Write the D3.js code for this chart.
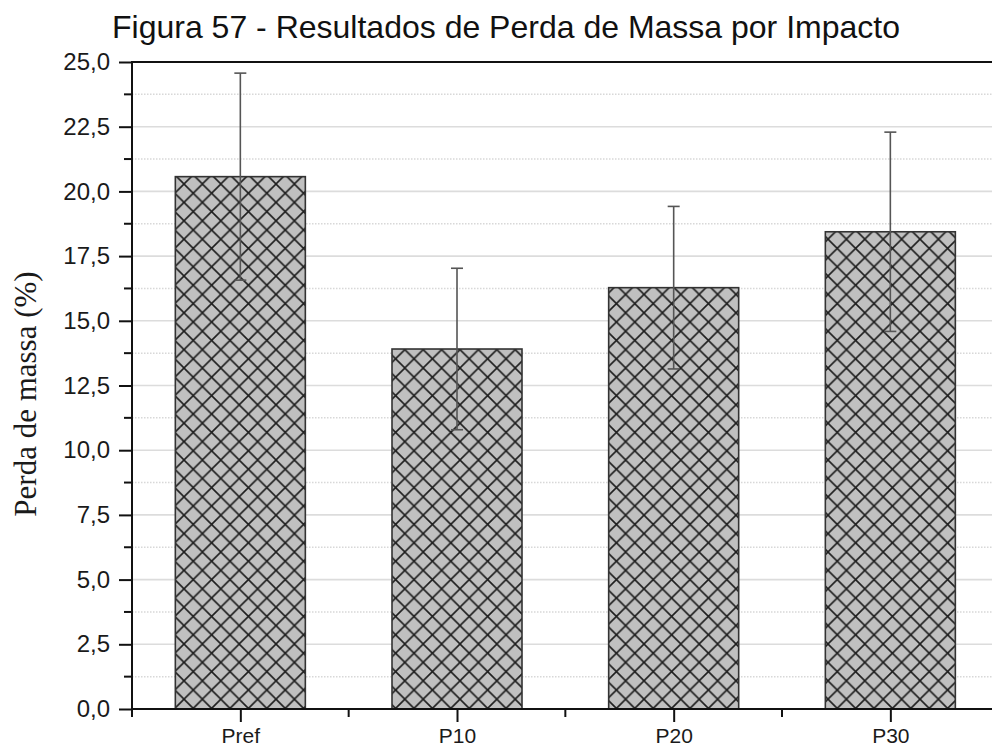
<!DOCTYPE html>
<html>
<head>
<meta charset="utf-8">
<script src="https://cdn.jsdelivr.net/npm/d3@7"></script>
<style>
  html, body { margin: 0; padding: 0; background: #fff; }
  svg { display: block; }
</style>
</head>
<body>
<svg id="chart" width="992" height="747"></svg>
<script>
// ---- data ----
const categories = ["Pref", "P10", "P20", "P30"];
const values = [20.57, 13.91, 16.28, 18.44];
const errors = [4.0, 3.12, 3.14, 3.85];
const yMajorTicks = [0, 2.5, 5, 7.5, 10, 12.5, 15, 17.5, 20, 22.5, 25];
const yMinorTicks = [1.25, 3.75, 6.25, 8.75, 11.25, 13.75, 16.25, 18.75, 21.25, 23.75];
const title = "Figura 57 - Resultados de Perda de Massa por Impacto";
const yLabel = "Perda de massa (%)";

(function () {
// ---- layout ----
const svg = d3.select("#chart");
const mLeft = 132, mTop = 62, mBottom = 709;
const bandStep = 216.67;
const mRight = mLeft + bandStep * categories.length;

const x = d3.scaleLinear().domain([-0.5, categories.length - 0.5]).range([mLeft, mRight]);
const y = d3.scaleLinear().domain([0, 25]).range([mBottom, mTop]);
const barW = bandStep * 0.6;
const fmt = v => d3.format(".1f")(v).replace(".", ",");

// pattern
const defs = svg.append("defs");
const P = 18.4;
const pat = defs.append("pattern")
  .attr("id", "hatch").attr("patternUnits", "userSpaceOnUse")
  .attr("width", P).attr("height", P);
pat.append("rect").attr("width", P).attr("height", P).attr("fill", "#c0c0c0");
pat.append("path")
  .attr("d", `M0,0 L${P},${P} M${P},0 L0,${P} M${-P/2},${P/2} L${P/2},${P*1.5} M${P/2},${-P/2} L${P*1.5},${P/2} M${P/2},${-P/2} L${-P/2},${P/2} M${P*1.5},${P/2} L${P/2},${P*1.5}`)
  .attr("stroke", "#1e1e1e").attr("stroke-width", 1.6).attr("fill", "none");

// grid
const grid = svg.append("g");
grid.selectAll("line.minor").data(yMinorTicks).join("line")
  .attr("class", "minor")
  .attr("x1", mLeft).attr("x2", mRight)
  .attr("y1", d => y(d)).attr("y2", d => y(d))
  .attr("stroke", "#d8d8d8").attr("stroke-width", 1.5).attr("stroke-dasharray", "1.5,1.5");
grid.selectAll("line.major").data(yMajorTicks.filter(d => d > 0 && d < 25)).join("line")
  .attr("class", "major")
  .attr("x1", mLeft).attr("x2", mRight)
  .attr("y1", d => y(d)).attr("y2", d => y(d))
  .attr("stroke", "#dcdcdc").attr("stroke-width", 1.6);

// bars
svg.append("g").selectAll("rect").data(values).join("rect")
  .attr("x", (d, i) => x(i) - barW / 2)
  .attr("y", d => y(d))
  .attr("width", barW)
  .attr("height", d => y(0) - y(d))
  .attr("fill", "url(#hatch)")
  .attr("stroke", "#333").attr("stroke-width", 1.6);

// error bars
const eb = svg.append("g").attr("stroke", "#555").attr("stroke-width", 1.6);
values.forEach((v, i) => {
  const cx = x(i);
  eb.append("line").attr("x1", cx).attr("x2", cx).attr("y1", y(v + errors[i])).attr("y2", y(v - errors[i]));
  eb.append("line").attr("x1", cx - 6).attr("x2", cx + 6).attr("y1", y(v + errors[i])).attr("y2", y(v + errors[i]));
  eb.append("line").attr("x1", cx - 6).attr("x2", cx + 6).attr("y1", y(v - errors[i])).attr("y2", y(v - errors[i]));
});

// y axis
const yAxis = svg.append("g").attr("transform", `translate(${mLeft},0)`)
  .call(d3.axisLeft(y).tickValues(yMajorTicks).tickFormat(fmt).tickSize(13).tickPadding(9));
yAxis.select(".domain").remove();
yAxis.selectAll(".tick line").attr("stroke", "#111").attr("stroke-width", 2);
yAxis.selectAll(".tick text").attr("font-family", "Liberation Sans, Arial, sans-serif")
  .attr("font-size", 24).attr("fill", "#1a1a1a");
svg.append("g").selectAll("line").data(yMinorTicks).join("line")
  .attr("x1", mLeft - 8).attr("x2", mLeft)
  .attr("y1", d => y(d)).attr("y2", d => y(d))
  .attr("stroke", "#111").attr("stroke-width", 2);

// x axis
const xAxis = svg.append("g").attr("transform", `translate(0,${mBottom})`)
  .call(d3.axisBottom(x).tickValues(d3.range(categories.length)).tickFormat(i => categories[i]).tickSize(13).tickPadding(6));
xAxis.select(".domain").remove();
xAxis.selectAll(".tick line").attr("stroke", "#111").attr("stroke-width", 2);
xAxis.selectAll(".tick text").attr("font-family", "Liberation Sans, Arial, sans-serif")
  .attr("font-size", 21).attr("fill", "#1a1a1a");
svg.append("g").selectAll("line").data(d3.range(categories.length).map(i => i - 0.5)).join("line")
  .attr("x1", d => x(d)).attr("x2", d => x(d))
  .attr("y1", mBottom).attr("y2", mBottom + 8)
  .attr("stroke", "#111").attr("stroke-width", 2);

// frame lines
svg.append("line").attr("x1", mLeft).attr("x2", mRight).attr("y1", mBottom).attr("y2", mBottom)
  .attr("stroke", "#111").attr("stroke-width", 2);
svg.append("line").attr("x1", mLeft).attr("x2", mRight).attr("y1", mTop).attr("y2", mTop)
  .attr("stroke", "#111").attr("stroke-width", 2.2);
svg.append("line").attr("x1", mLeft).attr("x2", mLeft).attr("y1", mTop - 1).attr("y2", mBottom + 1)
  .attr("stroke", "#111").attr("stroke-width", 2);

// title
svg.append("text").attr("x", 506).attr("y", 38).attr("text-anchor", "middle")
  .attr("font-family", "Liberation Sans, Arial, sans-serif").attr("font-size", 32).attr("fill", "#111")
  .text(title);

// y label
svg.append("text").attr("transform", "translate(36,394) rotate(-90)").attr("text-anchor", "middle")
  .attr("font-family", "Liberation Serif, Times New Roman, serif").attr("font-size", 31).attr("fill", "#1a1a1a")
  .text(yLabel);
})();
</script>
</body>
</html>
